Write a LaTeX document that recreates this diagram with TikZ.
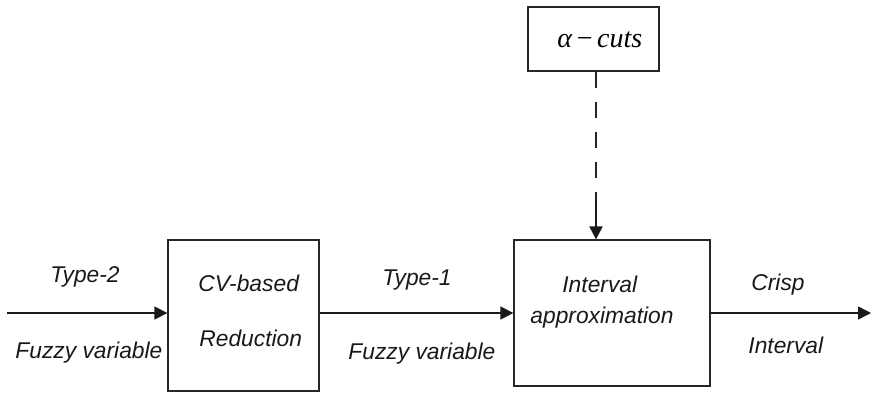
\documentclass[tikz,border=0pt]{standalone}
\usepackage{fontspec}
\setmainfont{Liberation Sans}
\newfontfamily\tmsfont{Liberation Serif}
\usetikzlibrary{arrows.meta}
\begin{document}
\begin{tikzpicture}[x=0.5pt,y=-0.5pt,
  blk/.style={draw=black!85,line width=0.65pt,inner sep=0pt},
  lbl/.style={anchor=base west,inner sep=0pt,font=\fontsize{11.4pt}{13pt}\selectfont\itshape,text=black!90},
  flow/.style={line width=0.75pt,draw=black!90,-{Triangle[length=6.5pt,width=6.5pt]}},
  dsh/.style={line width=1.1pt,draw=black!85,dash pattern=on 8pt off 7pt}]
\useasboundingbox (0,0) rectangle (871,392);
% boxes
\node[blk,minimum width=65.5pt,minimum height=32pt] (alpha) at (593.5,39) {};
\node[blk,minimum width=75.5pt,minimum height=75.5pt] (cv) at (243.5,315.5) {};
\node[blk,minimum width=98pt,minimum height=73pt] (int) at (612,313) {};
% texts
\node[anchor=base west,inner sep=0pt,font=\fontsize{14pt}{16pt}\selectfont\tmsfont] (at) at (557,47) {\itshape α\,\textup{−}\,cuts};
\node[lbl] (t2) at (50,282) {Type-2};
\node[lbl] (fv1) at (15,358) {Fuzzy variable};
\node[lbl] (cvb) at (198,291) {CV-based};
\node[lbl] (red) at (199,346) {Reduction};
\node[lbl] (t1) at (382,285) {Type-1};
\node[lbl] (fv2) at (348,359) {Fuzzy variable};
\node[lbl] (iv) at (562,292) {Interval};
\node[lbl] (ap) at (530,323) {approximation};
\node[lbl] (cr) at (751,290) {Crisp};
\node[lbl] (iv2) at (748,353) {Interval};
% connectors
\coordinate (in) at (7,313);
\coordinate (out) at (871,313);
\draw[flow] (in) -- (in -| cv.west);
\draw[flow] (int.west -| cv.east) -- (int.west);
\draw[flow] (int.east) -- (out);
\draw[dsh] ([xshift=1.25pt]alpha.south) -- ([xshift=1.25pt]alpha.south |- 0,200);
\draw[flow,line width=1.1pt] ([xshift=1.25pt]alpha.south |- 0,200) -- ([xshift=1.25pt]alpha.south |- int.north);
\end{tikzpicture}
\end{document}
